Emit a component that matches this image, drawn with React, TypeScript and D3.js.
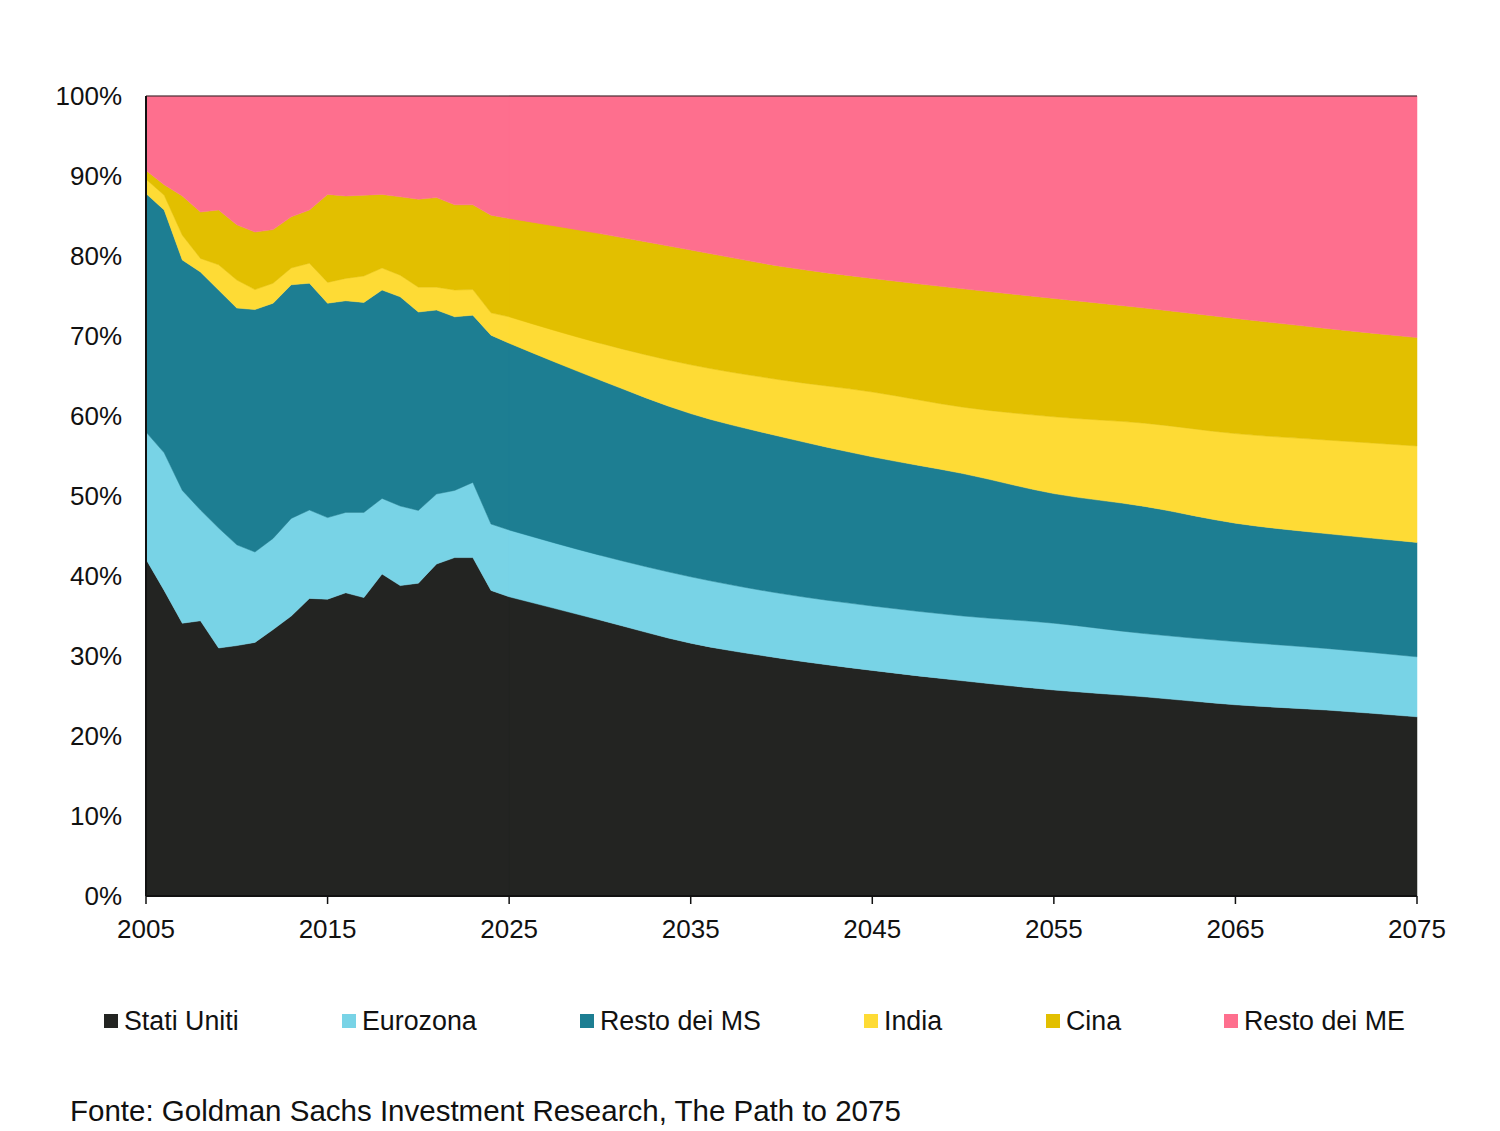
import * as d3 from 'd3';

const years = [
  2005, 2006, 2007, 2008, 2009, 2010, 2011, 2012, 2013, 2014,
  2015, 2016, 2017, 2018, 2019, 2020, 2021, 2022, 2023, 2024,
  2025, 2030, 2035, 2040, 2045, 2050, 2055, 2060, 2065, 2070, 2075,
];

// quote % del PIL mondiale
const statiUniti = [
  42.1, 38.2, 34.1, 34.4, 31.0, 31.3, 31.7, 33.3, 35.0, 37.2,
  37.1, 37.9, 37.3, 40.25, 38.8, 39.1, 41.5, 42.3, 42.3, 38.2,
  37.4, 34.5, 31.6, 29.7, 28.2, 26.9, 25.75, 24.9, 23.9, 23.25, 22.4,
];
const eurozona = [
  15.9, 17.2, 16.6, 13.85, 15.0, 12.6, 11.3, 11.4, 12.2, 11.05,
  10.2, 10.05, 10.65, 9.45, 9.95, 9.1, 8.75, 8.4, 9.4, 8.3,
  8.35, 8.1, 8.3, 8.1, 8.05, 8.1, 8.35, 7.9, 7.9, 7.7, 7.5,
];
const restoMS = [
  29.8, 30.35, 28.8, 29.75, 29.75, 29.6, 30.3, 29.4, 29.2, 28.35,
  26.8, 26.45, 26.25, 26.05, 26.15, 24.8, 23.0, 21.7, 20.9, 23.6,
  23.35, 21.9, 20.4, 19.6, 18.65, 17.8, 16.2, 15.9, 14.8, 14.35, 14.3,
];
const india = [
  1.8, 1.85, 3.1, 1.7, 3.15, 3.5, 2.5, 2.5, 2.1, 2.5,
  2.6, 2.8, 3.3, 2.75, 2.7, 3.1, 2.85, 3.35, 3.2, 2.8,
  3.3, 4.6, 6.1, 7.1, 8.1, 8.3, 9.6, 10.4, 11.2, 11.7, 12.05,
];
const cina = [
  1.1, 1.3, 4.9, 5.8, 6.85, 6.9, 7.2, 6.7, 6.4, 6.65,
  11.0, 10.3, 10.1, 9.2, 9.8, 11.0, 11.2, 10.65, 10.6, 12.2,
  12.3, 13.7, 14.35, 14.2, 14.2, 14.8, 14.8, 14.4, 14.4, 13.95, 13.55,
];
const restoME = [
  9.3, 11.1, 12.5, 14.5, 14.25, 16.1, 17.0, 16.7, 15.1, 14.25,
  12.3, 12.5, 12.4, 12.3, 12.6, 12.9, 12.7, 13.6, 13.6, 14.9,
  15.3, 17.2, 19.25, 21.3, 22.8, 24.1, 25.3, 26.5, 27.8, 29.05, 30.2,
];

const seriesNames = ['Stati Uniti', 'Eurozona', 'Resto dei MS', 'India', 'Cina', 'Resto dei ME'];
const seriesValues = [statiUniti, eurozona, restoMS, india, cina, restoME];
const colors = ['#232422', '#78d3e6', '#1d7e92', '#fedb35', '#e2bf00', '#fe6f8e'];

const xTicks = [2005, 2015, 2025, 2035, 2045, 2055, 2065, 2075];
const yTicks = [0, 10, 20, 30, 40, 50, 60, 70, 80, 90, 100];

const W = 1500;
const H = 1131;
const margin = { top: 96, right: 83, bottom: 235, left: 146 };
const font = '"Liberation Sans", Arial, sans-serif';

type Row = { year: number; [k: string]: number };

const rows: Row[] = years.map((year, i) => {
  const r: Row = { year };
  seriesNames.forEach((n, j) => { r[n] = seriesValues[j][i]; });
  return r;
});

const App = () => {
  const x = d3.scaleLinear().domain([2005, 2075]).range([margin.left, W - margin.right]);
  const y = d3.scaleLinear().domain([0, 100]).range([H - margin.bottom, margin.top]);

  const stacked = d3.stack<Row>().keys(seriesNames)(rows);
  // storico: spezzata annuale; proiezioni: curva liscia
  const areaHist = d3.area<d3.SeriesPoint<Row>>()
    .x(d => x(d.data.year))
    .y0(d => y(d[0]))
    .y1(d => y(d[1]));
  const areaProj = d3.area<d3.SeriesPoint<Row>>()
    .curve(d3.curveMonotoneX)
    .x(d => x(d.data.year))
    .y0(d => y(d[0]))
    .y1(d => y(d[1]));

  const x0 = x(2005);
  const x1 = x(2075);
  const yb = y(0);
  const yt = y(100);

  const legendX = [104, 342, 580, 864, 1046, 1224];

  return (
    <svg width={W} height={H} style={{ position: 'absolute', left: 0, top: 0, background: '#fff' }}>
      {/* lo storico arriva fino al 2030 e viene coperto dalle proiezioni: niente giunture visibili */}
      {stacked.map((s, i) => (
        <path key={s.key + 'h'} d={areaHist(s.filter(d => d.data.year <= 2030)) || ''} fill={colors[i]} stroke={colors[i]} strokeWidth={0.5} />
      ))}
      {stacked.map((s, i) => (
        <path key={s.key + 'p'} d={areaProj(s.filter(d => d.data.year >= 2025)) || ''} fill={colors[i]} stroke={colors[i]} strokeWidth={0.5} />
      ))}
      {/* assi */}
      <line x1={x0} x2={x1} y1={yt} y2={yt} stroke="#222" strokeWidth={1} />
      <line x1={x0} x2={x0} y1={yt} y2={yb} stroke="#111" strokeWidth={2} />
      <line x1={x0} x2={x1} y1={yb} y2={yb} stroke="#111" strokeWidth={2} />
      {xTicks.map(t => (
        <g key={t}>
          <line x1={x(t)} x2={x(t)} y1={yb} y2={yb + 8} stroke="#111" strokeWidth={1.5} />
          <text x={x(t)} y={yb + 42} textAnchor="middle" fontFamily={font} fontSize={26} fill="#111">{t}</text>
        </g>
      ))}
      {yTicks.map(t => (
        <text key={t} x={122} y={y(t) + 9} textAnchor="end" fontFamily={font} fontSize={26} fill="#111">{t}%</text>
      ))}
      {/* legenda */}
      {seriesNames.map((n, i) => (
        <g key={n}>
          <rect x={legendX[i]} y={1014} width={14} height={14} fill={colors[i]} />
          <text x={legendX[i] + 20} y={1030} fontFamily={font} fontSize={26.8} fill="#111">{n}</text>
        </g>
      ))}
      <text x={70} y={1121} fontFamily={font} fontSize={29.5} fill="#111">
        Fonte: Goldman Sachs Investment Research, The Path to 2075
      </text>
    </svg>
  );
};

export default App;
